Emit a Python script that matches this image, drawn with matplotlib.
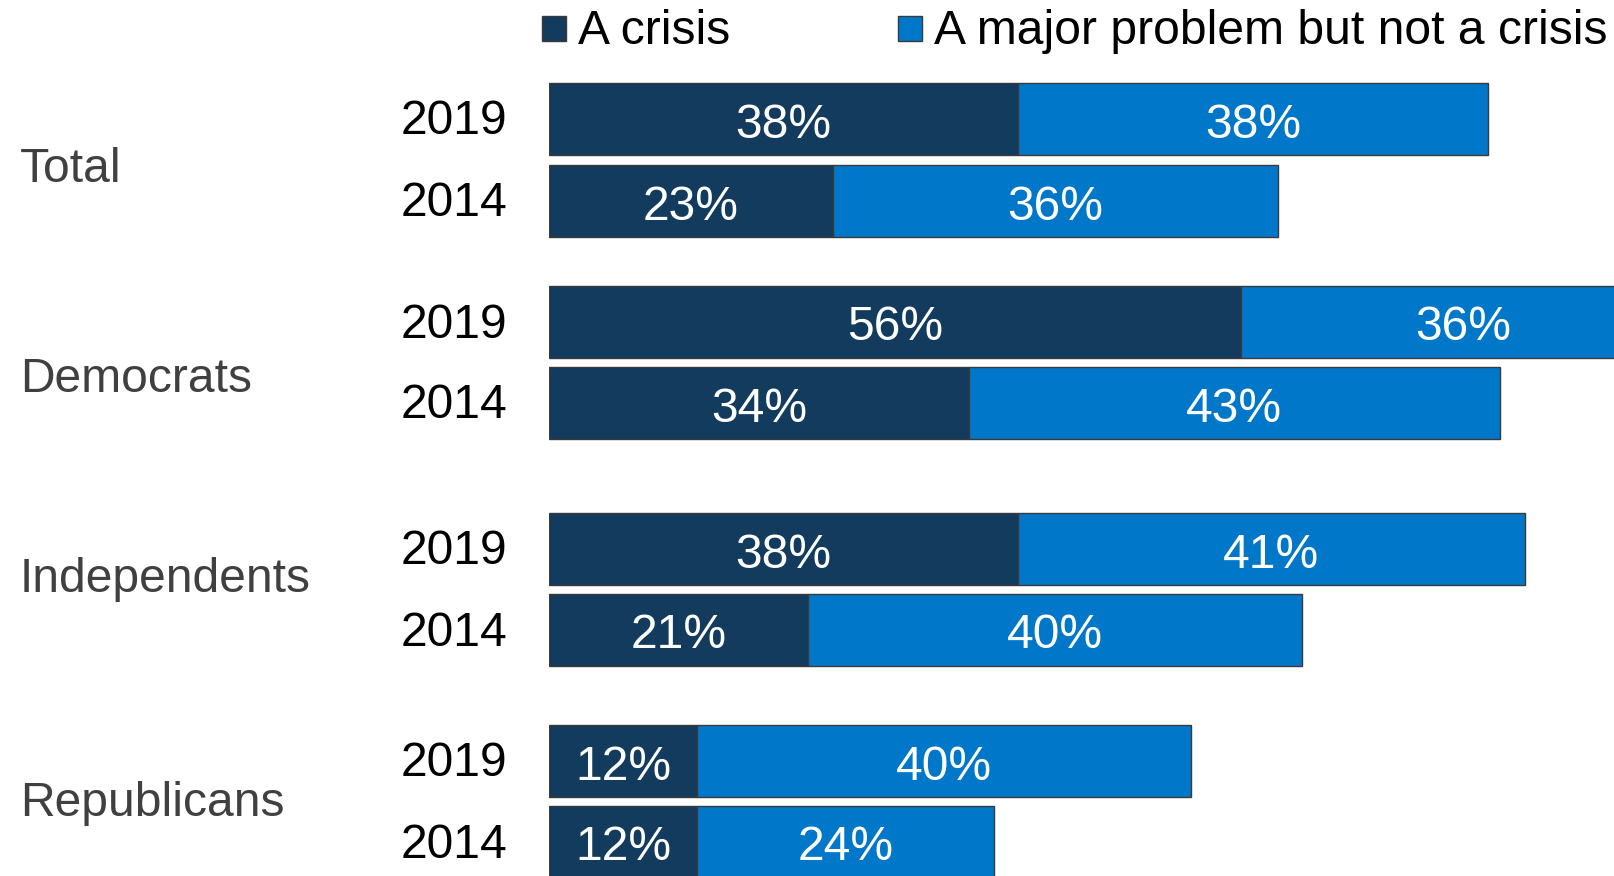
import matplotlib
matplotlib.use("Agg")
import matplotlib.pyplot as plt
from matplotlib.patches import Rectangle
from matplotlib.transforms import blended_transform_factory

plt.rcParams["font.family"] = ["Liberation Sans", "DejaVu Sans"]

groups = ["Total", "Democrats", "Independents", "Republicans"]
years = ["2019", "2014"]
crisis = [38, 23, 56, 34, 38, 21, 12, 12]
major = [38, 36, 36, 43, 41, 40, 40, 24]
series_names = ["A crisis", "A major problem but not a crisis"]
colors = ["#123b5e", "#0077c8"]

# layout (pixel rows, top-down)
bar_y = [119, 201, 322, 403, 549, 630, 761, 842]
group_y = [169, 379, 580, 803]
W, H = 1614, 876
x0 = 549
px_per_pct = 12.35
fs = 34.6

fig = plt.figure(figsize=(W / 100, H / 100), dpi=100)
ax = fig.add_axes([x0 / W, 0, 1 - x0 / W, 1])
ax.set_xlim(0, (W - x0) / px_per_pct)
ax.set_ylim(H, 0)
ax.axis("off")

bh = 72
ax.barh(bar_y, crisis, height=bh, color=colors[0], edgecolor="#3a3a3a", linewidth=1)
ax.barh(bar_y, major, left=crisis, height=bh, color=colors[1], edgecolor="#3a3a3a", linewidth=1)

for y, c, m in zip(bar_y, crisis, major):
    ax.text(c / 2, y + 6, f"{c}%", ha="center", va="center", color="white", fontsize=fs)
    ax.text(c + m / 2, y + 6, f"{m}%", ha="center", va="center", color="white", fontsize=fs)

tr = blended_transform_factory(fig.transFigure, ax.transData)
for i, y in enumerate(bar_y):
    ax.text(507 / W, y + 3, years[i % 2], ha="right", va="center", fontsize=fs,
            color="black", transform=tr)
for g, y in zip(groups, group_y):
    ax.text(20 / W, y, g, ha="left", va="center", fontsize=fs, color="#404040",
            transform=tr)

# legend
for name, col, mx, tx in zip(series_names, colors, [542, 898], [578, 934]):
    fig.patches.append(Rectangle((mx / W, 1 - 41 / H), 24 / W, 25 / H,
                                 transform=fig.transFigure, facecolor=col,
                                 edgecolor="#3a3a3a", linewidth=1))
    fig.text(tx / W, 1 - 32 / H, name, ha="left", va="center", fontsize=fs,
             color="black")

fig.savefig("out.png", dpi=100)
